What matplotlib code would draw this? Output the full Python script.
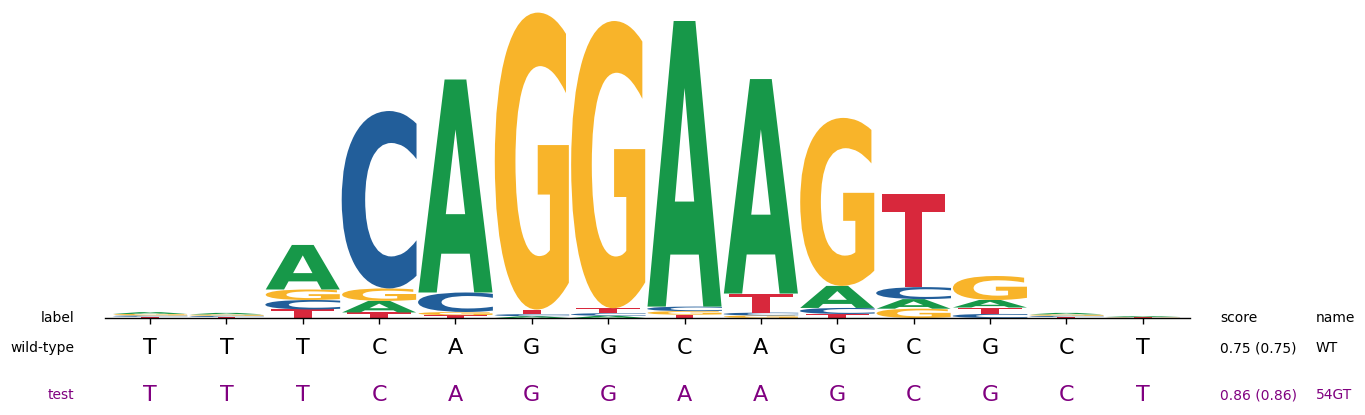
import matplotlib
matplotlib.use("Agg")
import matplotlib.pyplot as plt
import numpy as np
from matplotlib.textpath import TextPath
from matplotlib.patches import PathPatch
from matplotlib.font_manager import FontProperties
from matplotlib.transforms import Affine2D, blended_transform_factory

# ---- data ----
positions = list(range(1, 15))
letters = ["A", "C", "G", "T"]
# letter heights (bits) per position
height_A = [0.012, 0.010, 0.297, 0.077, 1.420, 0.012, 0.015, 1.904, 1.430, 0.147, 0.064, 0.050, 0.010, 0.006]
height_C = [0.009, 0.008, 0.063, 1.183, 0.130, 0.014, 0.017, 0.030, 0.019, 0.040, 0.080, 0.027, 0.008, 0.002]
height_G = [0.010, 0.009, 0.070, 0.083, 0.021, 1.980, 1.915, 0.024, 0.017, 1.120, 0.062, 0.160, 0.009, 0.003]
height_T = [0.008, 0.007, 0.057, 0.037, 0.019, 0.030, 0.033, 0.022, 0.127, 0.027, 0.618, 0.043, 0.007, 0.002]
colors = {"A": "#179849", "C": "#225E9A", "G": "#F8B42A", "T": "#D8283C"}

row_labels = ["wild-type", "test"]
row_colors = ["black", "purple"]
wt_seq = list("TTTCAGGCAGCGCT")
test_seq = list("TTTCAGGAAGCGCT")
scores = ["0.75 (0.75)", "0.86 (0.86)"]
names = ["WT", "54GT"]

# ---- figure ----
W, H = 1365, 415
fig = plt.figure(figsize=(W / 100, H / 100), dpi=100)
ax = fig.add_axes([105 / W, 97 / H, (1190 - 105) / W, 1 - 97 / H])
ax.set_xlim(0.41, 14.62)
ax.set_ylim(0, 318 / 150)

fp = FontProperties(family="DejaVu Sans", weight="bold")
glyph_width = {"A": 0.97, "C": 0.98, "G": 0.97, "T": 0.83}

def draw_glyph(ax, ch, x, y0, h, color):
    if h <= 0:
        return
    w = glyph_width[ch]
    tp = TextPath((0, 0), ch, size=1, prop=fp)
    ext = tp.get_extents()
    tr = (Affine2D()
          .translate(-ext.x0, -ext.y0)
          .scale(w / ext.width, h / ext.height)
          .translate(x - w / 2, y0))
    path = tr.transform_path(tp)
    ax.add_patch(PathPatch(path, facecolor=color, edgecolor="none", lw=0))

heights = {"A": height_A, "C": height_C, "G": height_G, "T": height_T}
for i, pos in enumerate(positions):
    stack = sorted(letters, key=lambda L: heights[L][i])
    y = 0.0
    for L in stack:
        h = heights[L][i]
        draw_glyph(ax, L, pos, y, h, colors[L])
        y += h

for s in ["left", "top", "right"]:
    ax.spines[s].set_visible(False)
ax.spines["bottom"].set_linewidth(1.0)
ax.set_yticks([])
ax.set_xticks(positions)
ax.set_xticklabels([])
ax.tick_params(axis="x", length=4, width=1)

# ---- text rows ----
def fy(py):
    return 1 - py / H

trans = blended_transform_factory(ax.transData, fig.transFigure)
fig.text(74 / W, fy(318), "label", ha="right", va="center", fontsize=10)
fig.text(1220 / W, fy(318), "score", ha="left", va="center", fontsize=10)
fig.text(1316 / W, fy(318), "name", ha="left", va="center", fontsize=10)

row_y = [348, 395]
for seq, lab, col, yy, sc, nm in zip([wt_seq, test_seq], row_labels, row_colors, row_y, scores, names):
    fig.text(74 / W, fy(yy), lab, ha="right", va="center", fontsize=10, color=col)
    for pos, ch in zip(positions, seq):
        ax.text(pos, fy(yy), ch, transform=trans, ha="center", va="center",
                fontsize=16, color=col)
    fig.text(1220 / W, fy(yy), sc, ha="left", va="center", fontsize=10, color=col)
    fig.text(1316 / W, fy(yy), nm, ha="left", va="center", fontsize=10, color=col)

fig.savefig("out.png", dpi=100)
